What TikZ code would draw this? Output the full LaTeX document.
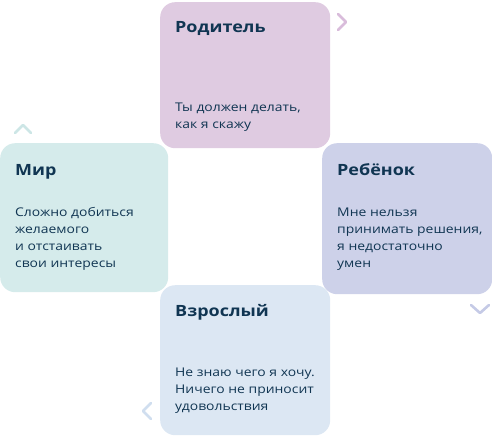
\documentclass[tikz,border=0pt]{standalone}
\usepackage{fontspec}
\setmainfont[FakeStretch=1.16]{Open Sans}
\usepackage{xcolor}

\definecolor{ink}{HTML}{103552}
\definecolor{rodfill}{HTML}{DFCBE1}
\definecolor{mirfill}{HTML}{D5EBEB}
\definecolor{rebfill}{HTML}{CDD1E9}
\definecolor{vzrfill}{HTML}{DCE7F3}
\definecolor{rodchev}{HTML}{D9BCDB}
\definecolor{mirchev}{HTML}{CDE6E6}
\definecolor{rebchev}{HTML}{C5CAE6}
\definecolor{vzrchev}{HTML}{D0DEEF}

\tikzset{
	card/.style={draw=none, rounded corners=15pt, minimum width=170pt,
		minimum height=148pt, inner sep=0pt, anchor=north west},
	title/.style={anchor=base west, inner sep=0pt, text=ink,
		font=\fontsize{15.5}{17}\selectfont\bfseries},
	body/.style={anchor=base west, inner sep=0pt, text=ink, align=left,
		font=\fontsize{12}{17}\selectfont},
	chev/.style={line width=2.6pt, line cap=round, line join=round}
}

\begin{document}
\begin{tikzpicture}[x=1pt,y=-1pt]
	
	\useasboundingbox (0,0) rectangle (492,442);
	
	% cards
	\node [card, fill=rodfill, minimum height=146pt] (rod) at (160,2) {};
	\node [card, fill=mirfill, minimum width=168pt, minimum height=149pt] (mir) at (0,143) {};
	\node [card, fill=rebfill, minimum height=151pt] (reb) at (322,143) {};
	\node [card, fill=vzrfill, minimum height=150pt] (vzr) at (160,285) {};
	
	% titles
	\node [title] (rodtitle) at (175,32) {Родитель};
	\node [title] (mirtitle) at (15,175) {Мир};
	\node [title] (rebtitle) at (337,175) {Ребёнок};
	\node [title] (vzrtitle) at (175,316) {Взрослый};
	
	% texts (base = last line)
	\node [body] (rodtext) at (175,128) {Ты должен делать,\\как я скажу};
	\node [body] (mirtext) at (15,267) {Сложно добиться\\желаемого\\и отстаивать\\свои интересы};
	\node [body] (rebtext) at (337,267) {Мне нельзя\\принимать решения,\\я недостаточно\\умен};
	\node [body] (vzrtext) at (175,410) {Не знаю чего я хочу.\\Ничего не приносит\\удовольствия};
	
	% chevrons
	\draw [chev, rodchev] (338,14) -- (346,22) -- (338,30);
	\draw [chev, mirchev] (15,133) -- (23,125) -- (31,133);
	\draw [chev, rebchev] (471,305) -- (480,313) -- (489,305);
	\draw [chev, vzrchev] (151,403) -- (143,411) -- (151,419);
	
\end{tikzpicture}
\end{document}
